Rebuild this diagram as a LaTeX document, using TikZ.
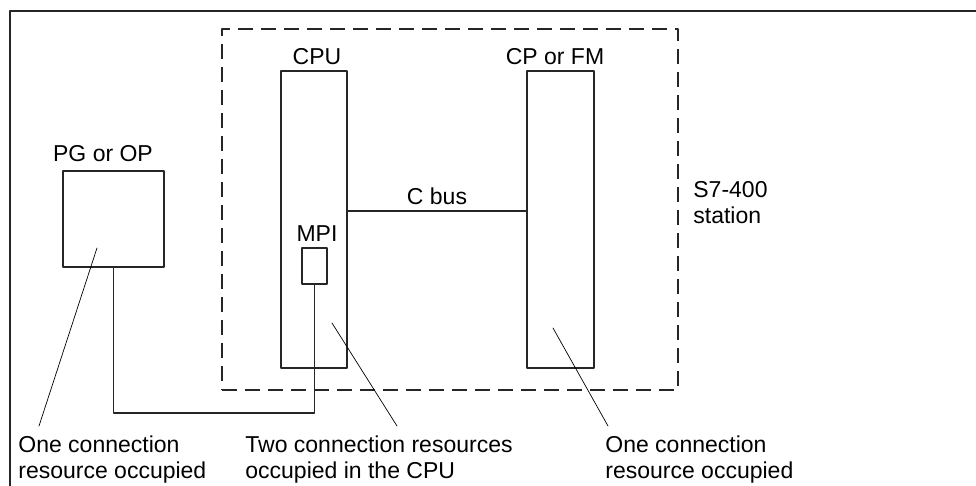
\documentclass[tikz,border=0pt]{standalone}
\usepackage{fontspec}
\setmainfont{Liberation Sans}
\usetikzlibrary{calc}

\tikzset{
  box/.style={draw=black!85, line width=0.6pt, inner sep=0pt},
  lbl/.style={inner sep=0pt, font=\fontsize{11.5}{13}\selectfont, align=left},
  lead/.style={draw=black, line width=0.35pt},
  wire/.style={draw=black!85, line width=0.6pt}
}

\begin{document}
\begin{tikzpicture}[line cap=round,line join=round,x=0.5pt,y=-0.5pt]
				\useasboundingbox (0,0) rectangle (976,486);
				% Rahmen
				\draw[wire] (976,11) -- (10,11) -- (10,486);
				% Station S7-400
				\node[box, dash pattern=on 7.5pt off 4pt, line cap=butt, minimum width=228pt, minimum height=180.5pt] (stat) at (450,209.5) {};
				\node[lbl, anchor=north west] (statl) at (693,181) {S7-400\\station};
				% Baugruppen
				\node[box, minimum width=33pt, minimum height=148.5pt] (cpu) at (314,219.5) {};
				\node[box, minimum width=33.5pt, minimum height=148.5pt] (cpfm) at (560.5,219.5) {};
				\node[box, minimum width=12.5pt, minimum height=18pt] (mpi) at (314.5,266) {};
				\node[box, minimum width=50.5pt, minimum height=48pt] (pg) at (113.5,219) {};
				\node[lbl, anchor=base] (cpul) at (317,65) {CPU};
				\node[lbl, anchor=base] (cpfml) at (555,65) {CP or FM};
				\node[lbl, anchor=base] (mpil) at (317,242) {MPI};
				\node[lbl, anchor=base] (pgl) at (103,162) {PG or OP};
				% C-Bus
				\coordinate (bus) at (437,211);
				\draw[wire] (cpu.east |- bus) -- (cpfm.west |- bus) node[lbl, midway, above=3pt] (busl) {C bus};
				% MPI-Kabel
				\coordinate (cab) at (314,413);
				\draw[wire] (pg.south) |- (mpi.south |- cab) -- (mpi.south);
				% Beschriftungen unten
				\node[lbl, anchor=north west] (res1) at (18,435) {One connection\\resource occupied};
				\node[lbl, anchor=north west] (res2) at (245,435) {Two connection resources\\occupied in the CPU};
				\node[lbl, anchor=north west] (res3) at (605,435) {One connection\\resource occupied};
				\coordinate (p1) at (97,248);
				\coordinate (p2) at (332,323);
				\coordinate (p3) at (553,328);
				\draw[lead] (p1) -- ($(res1.north west)+(21,-9)$);
				\draw[lead] (p2) -- ($(res2.north west)+(152,-9)$);
				\draw[lead] (p3) -- ($(res3.north west)+(3,-9)$);
		\end{tikzpicture}
\end{document}
